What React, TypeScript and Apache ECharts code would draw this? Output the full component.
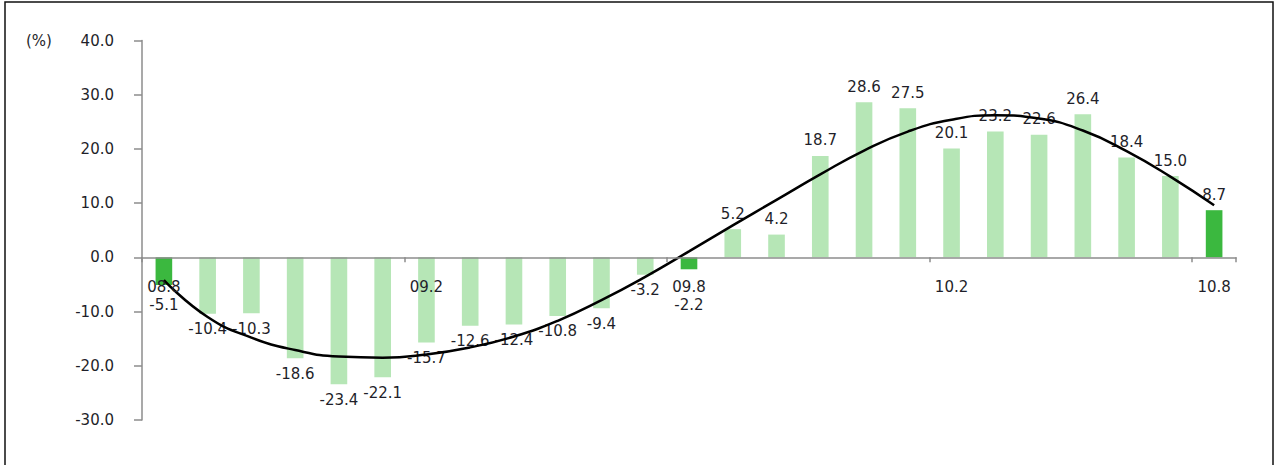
import React, { useEffect, useRef } from "react";
import * as echarts from "echarts";

const categories = [
  "08.8", "08.9", "08.10", "08.11", "08.12", "09.1", "09.2", "09.3", "09.4",
  "09.5", "09.6", "09.7", "09.8", "09.9", "09.10", "09.11", "09.12", "10.1",
  "10.2", "10.3", "10.4", "10.5", "10.6", "10.7", "10.8",
];
const values = [
  -5.1, -10.4, -10.3, -18.6, -23.4, -22.1, -15.7, -12.6, -12.4, -10.8, -9.4,
  -3.2, -2.2, 5.2, 4.2, 18.7, 28.6, 27.5, 20.1, 23.2, 22.6, 26.4, 18.4, 15.0, 8.7,
];
const trend = [
  -4.2, -11.0, -14.8, -17.1, -18.3, -18.5, -17.9, -16.6, -14.6, -11.7, -7.9,
  -3.6, 1.1, 5.9, 10.6, 15.3, 19.7, 23.2, 25.4, 26.2, 25.6, 23.4, 19.6, 14.9, 9.6,
];
const highlighted = ["08.8", "09.8", "10.8"];
const yTicks = { min: -30, max: 40, interval: 10 };
const labelEvery = 6;

const FONT = "DejaVu Sans";
const TEXT = "#1f1f2a";
const LIGHT = "#b6e6b6";
const DARK = "#3bb83f";
const AXIS = "#8c8c8c";

export default function App() {
  const ref = useRef<HTMLDivElement>(null);
  useEffect(() => {
    if (!ref.current) return;
    const chart = echarts.init(ref.current, null, { renderer: "svg" });
    chart.setOption({
      animation: false,
      backgroundColor: "#ffffff",
      grid: { left: 142, right: 38, top: 40.5, bottom: 45 },
      graphic: [
        {
          type: "rect",
          shape: { x: 5, y: 2, width: 1268, height: 520 },
          style: { fill: "none", stroke: "#111", lineWidth: 1.5 },
          silent: true,
        },
        {
          type: "text",
          x: 26,
          y: 33,
          style: { text: "(%)", font: `15px "${FONT}"`, fill: TEXT },
        },
      ],
      xAxis: {
        type: "category",
        data: categories,
        z: 10,
        axisLine: { onZero: true, lineStyle: { color: AXIS, width: 1.5 } },
        axisTick: { show: true, length: 5, inside: false, lineStyle: { color: AXIS, width: 1.5 } },
        axisLabel: {
          interval: labelEvery - 1,
          margin: -141,
          fontFamily: FONT,
          fontSize: 15,
          color: TEXT,
        },
        splitLine: { show: false },
      },
      yAxis: {
        type: "value",
        min: yTicks.min,
        max: yTicks.max,
        interval: yTicks.interval,
        axisLine: { show: true, lineStyle: { color: AXIS, width: 1.5 } },
        axisTick: { show: true, length: 8, lineStyle: { color: AXIS, width: 1.5 } },
        axisLabel: {
          margin: 28,
          fontFamily: FONT,
          fontSize: 15,
          color: TEXT,
          formatter: (v: number) => v.toFixed(1),
        },
        splitLine: { show: false },
      },
      series: [
        {
          type: "bar",
          barWidth: "38%",
          data: values.map((v, i) => {
            const underAxisLabel = v < 0 && i % labelEvery === 0;
            return {
              value: v,
              label: {
                position: v < 0 ? "bottom" : "top",
                distance: underAxisLabel ? Math.max(8, 40 - 5.43 * Math.abs(v)) : 8,
              },
            };
          }),
          itemStyle: {
            color: (p: any) => (highlighted.includes(p.name) ? DARK : LIGHT),
          },
          label: {
            show: true,
            fontFamily: FONT,
            fontSize: 15,
            color: TEXT,
            formatter: (p: any) => Number(p.value).toFixed(1),
          },
          z: 2,
        },
        {
          type: "line",
          data: trend,
          smooth: true,
          symbol: "none",
          lineStyle: { color: "#000", width: 2.5 },
          z: 3,
        },
      ],
    });
    return () => chart.dispose();
  }, []);
  return (
    <div
      ref={ref}
      style={{ position: "fixed", left: 0, top: 0, width: 1274, height: 465 }}
    />
  );
}
